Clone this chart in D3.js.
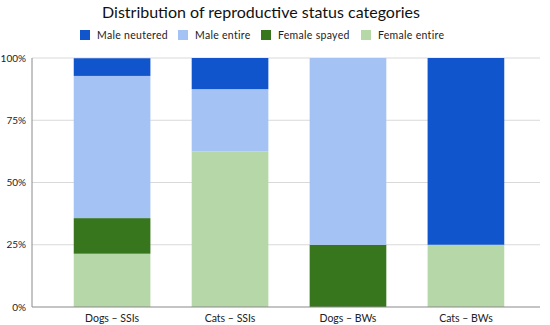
<!DOCTYPE html>
<html>
<head>
<meta charset="utf-8">
<script src="https://cdn.jsdelivr.net/npm/d3@7"></script>
<style>
  body { margin: 0; background: #fff; }
  svg { font-family: Lato, "Open Sans", sans-serif; }
</style>
</head>
<body>
<div id="chart"></div>
<script>
// categories and series (shares, %)
const categories = ["Dogs – SSIs", "Cats – SSIs", "Dogs – BWs", "Cats – BWs"];
const femaleEntire = [21.4, 62.5, 0, 25];
const femaleSpayed = [14.3, 0, 25, 0];
const maleEntire = [57.1, 25, 75, 0];
const maleNeutered = [7.1, 12.5, 0, 75];
const yTicks = [0, 25, 50, 75, 100];

// stack from bottom to top, legend in reverse order
const seriesNames = ["Female entire", "Female spayed", "Male entire", "Male neutered"];
const seriesValues = [femaleEntire, femaleSpayed, maleEntire, maleNeutered];
const colors = ["#b6d7a8", "#38761d", "#a4c2f4", "#1155cc"];

var width = 550, height = 325;
var margin = { top: 58, right: 10, bottom: 18, left: 32 };

var svg = d3.select("#chart").append("svg")
  .attr("width", width)
  .attr("height", height);

var rows = categories.map((c, i) => {
  let r = { cat: c };
  seriesNames.forEach((s, j) => r[s] = seriesValues[j][i]);
  return r;
});
var stacked = d3.stack().keys(seriesNames)(rows);

var x = d3.scaleBand()
  .domain(categories)
  .range([36, 542])
  .paddingInner(0.35)
  .paddingOuter(0.32);

var y = d3.scaleLinear()
  .domain([0, 100])
  .range([height - margin.bottom, margin.top]);

// gridlines
svg.append("g")
  .selectAll("line")
  .data(yTicks.filter(d => d > 0))
  .enter().append("line")
  .attr("x1", margin.left)
  .attr("x2", 540)
  .attr("y1", d => y(d))
  .attr("y2", d => y(d))
  .style("stroke", "#d9d9d9")
  .style("stroke-width", 1);

// bars
svg.append("g")
  .selectAll("g")
  .data(stacked)
  .enter().append("g")
  .attr("fill", (d, i) => colors[i])
  .selectAll("rect")
  .data(d => d)
  .enter().append("rect")
  .attr("x", d => x(d.data.cat))
  .attr("width", x.bandwidth())
  .attr("y", d => y(d[1]))
  .attr("height", d => y(d[0]) - y(d[1]));

// axes lines
svg.append("line")
  .attr("x1", margin.left).attr("x2", margin.left)
  .attr("y1", y(100)).attr("y2", y(0))
  .style("stroke", "#8a8a8a").style("stroke-width", 1);
svg.append("line")
  .attr("x1", margin.left).attr("x2", 540)
  .attr("y1", y(0)).attr("y2", y(0))
  .style("stroke", "#8a8a8a").style("stroke-width", 1.2);

// y tick labels
svg.append("g")
  .selectAll("text")
  .data(yTicks)
  .enter().append("text")
  .attr("x", 26)
  .attr("y", d => y(d))
  .attr("dy", "0.35em")
  .attr("text-anchor", "end")
  .style("font-size", "10px")
  .style("fill", "#222")
  .text(d => d + "%");

// x labels
svg.append("g")
  .selectAll("text")
  .data(categories)
  .enter().append("text")
  .attr("x", d => x(d) + x.bandwidth() / 2)
  .attr("y", 318)
  .attr("dy", "0.35em")
  .attr("text-anchor", "middle")
  .style("font-size", "10.5px")
  .style("fill", "#222")
  .text(d => d);

// title
svg.append("text")
  .attr("x", 261)
  .attr("y", 12)
  .attr("dy", "0.35em")
  .attr("text-anchor", "middle")
  .style("font-size", "16px")
  .style("fill", "#111")
  .text("Distribution of reproductive status categories");

// legend
var legendOrder = [3, 2, 1, 0];
var legendX = [80, 178, 261, 361];
var legend = svg.append("g")
  .selectAll("g")
  .data(legendOrder)
  .enter().append("g")
  .attr("transform", (d, i) => "translate(" + legendX[i] + ",30)");
legend.append("rect")
  .attr("width", 10)
  .attr("height", 10)
  .attr("fill", d => colors[d]);
legend.append("text")
  .attr("x", 17)
  .attr("y", 5)
  .attr("dy", "0.35em")
  .style("font-size", "10.5px")
  .style("letter-spacing", "0.3px")
  .style("fill", "#222")
  .text(d => seriesNames[d]);
</script>
</body>
</html>
